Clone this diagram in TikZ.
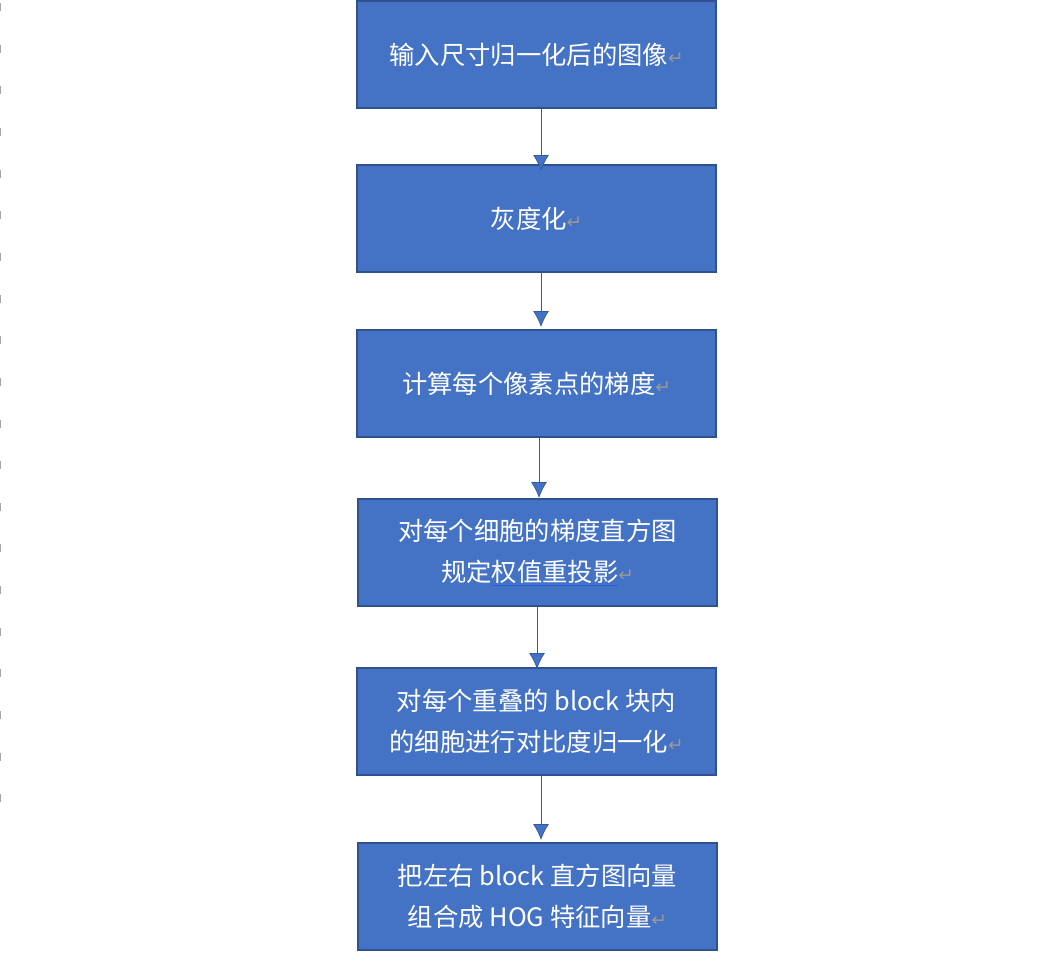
\documentclass[tikz,border=0pt]{standalone}
\usepackage{fontspec}
\setmainfont{Noto Sans CJK SC}
\newfontfamily\djv{DejaVu Sans}
\definecolor{boxfill}{HTML}{4472C4}
\definecolor{boxline}{HTML}{2F528F}
\definecolor{ulblue}{HTML}{2A5BE0}
\newcommand{\ret}{{\djv\color{gray!80}\fontsize{14pt}{14pt}\selectfont ↵}}
\begin{document}
\begin{tikzpicture}[x=0.75pt,y=-0.75pt,
  stepbox/.style={draw=boxline,line width=1.9pt,fill=boxfill,text=white,align=center,
    inner sep=0pt,font=\fontsize{19pt}{31pt}\selectfont},
  conn/.style={draw=boxfill!80!black,line width=0.6pt,-{Latex[length=12pt,width=12pt,fill=boxfill]}},
  tick/.style={draw=gray!70,line width=1pt}]
\usetikzlibrary{arrows.meta}
\useasboundingbox (0,0) rectangle (1054,968);
\foreach \i in {0,...,19} {\draw[tick] (0,{7+41.65*\i-4}) -- (0,{7+41.65*\i+4});}
\node[stepbox,minimum width=359*0.75pt,minimum height=107*0.75pt] (a) at (536.5,54.5) {输入尺寸归一化后的图像\ret};
\node[stepbox,minimum width=359*0.75pt,minimum height=107*0.75pt] (b) at (536.5,218.5) {灰度化\ret};
\node[stepbox,minimum width=359*0.75pt,minimum height=107*0.75pt] (c) at (536.5,383.5) {计算每个像素点的梯度\ret};
\node[stepbox,minimum width=359*0.75pt,minimum height=107*0.75pt] (d) at (537.5,552.5) {对每个细胞的梯度直方图\\规定{\color{ulblue}\underline{\color{white}权值重投影}}\ret};
\node[stepbox,minimum width=359*0.75pt,minimum height=107*0.75pt] (e) at (536.5,721.5) {对每个重叠的 block 块内\\的细胞进行对比度归一化\ret};
\node[stepbox,minimum width=359*0.75pt,minimum height=107*0.75pt] (f) at (537.5,896.5) {把左右 block 直方图向量\\组合成 HOG 特征向量\ret};
\draw[conn] (a.south -| 541,0) -- (541,171);
\draw[conn] (b.south -| 541,0) -- (541,327);
\draw[conn] (c.south -| 539,0) -- (539,498);
\draw[conn] (d.south -| 537,0) -- (537,669);
\draw[conn] (e.south -| 541,0) -- (541,840);
\end{tikzpicture}
\end{document}
